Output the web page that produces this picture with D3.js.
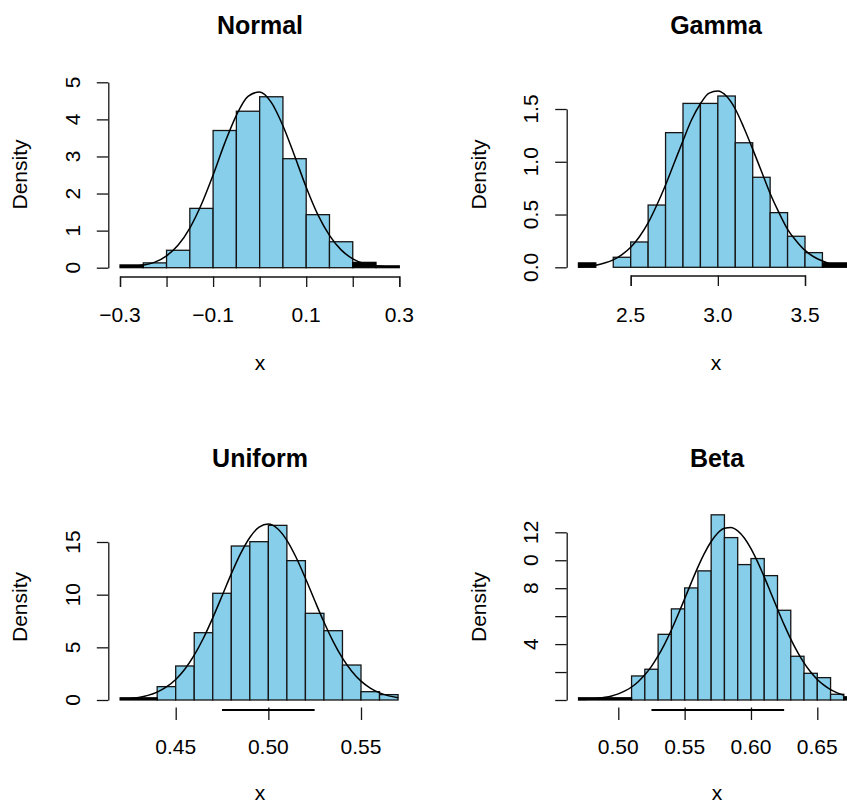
<!DOCTYPE html>
<html>
<head>
<meta charset="utf-8">
<script src="https://cdn.jsdelivr.net/npm/d3@7"></script>
<style>
  html, body { margin: 0; padding: 0; background: #fff; }
  svg { display: block; }
  text { font-family: "Liberation Sans", Arial, Helvetica, sans-serif; fill: #000; }
</style>
</head>
<body>
<svg id="chart" width="847" height="805"></svg>
<script>
// ---------- Normal ----------
const normalBreaks  = [-0.25, -0.2, -0.15, -0.1, -0.05, 0, 0.05, 0.1, 0.15, 0.2];
const normalDensity = [0.13, 0.47, 1.60, 3.70, 4.22, 4.61, 2.94, 1.43, 0.70];
const normalTails   = [[-0.3, -0.25, 0.075], [0.2, 0.25, 0.145], [0.25, 0.3, 0.05]];
const normalCurveX  = [-0.3, -0.275, -0.25, -0.225, -0.2, -0.175, -0.15, -0.125, -0.1, -0.075, -0.05, -0.025, 0,
                       0.025, 0.05, 0.075, 0.1, 0.125, 0.15, 0.175, 0.2, 0.225, 0.25, 0.275, 0.3];
const normalCurveY  = [0.01, 0.03, 0.07, 0.15, 0.32, 0.61, 1.07, 1.71, 2.50, 3.36, 4.11, 4.62, 4.74,
                       4.46, 3.83, 3.02, 2.17, 1.43, 0.87, 0.48, 0.24, 0.11, 0.05, 0.02, 0.01];
const normalXTicks  = [-0.3, -0.2, -0.1, 0, 0.1, 0.2, 0.3];
const normalXLabels = ["\u22120.3", "", "\u22120.1", "", "0.1", "", "0.3"];
const normalYTicks  = [0, 1, 2, 3, 4, 5];
const normalYLabels = ["0", "1", "2", "3", "4", "5"];

// ---------- Gamma ----------
const gammaBreaks  = [2.3, 2.4, 2.5, 2.6, 2.7, 2.8, 2.9, 3.0, 3.1, 3.2, 3.3, 3.4, 3.5, 3.6];
const gammaDensity = [0, 0.095, 0.24, 0.59, 1.276, 1.553, 1.553, 1.623, 1.18, 0.853, 0.518, 0.294, 0.139];
const gammaTails   = [[2.2, 2.3, 0.042], [3.6, 3.8, 0.042]];
const gammaCurveX  = [2.2, 2.25, 2.3, 2.35, 2.4, 2.45, 2.5, 2.55, 2.6, 2.65, 2.7, 2.75, 2.8, 2.85, 2.9, 2.95, 3.0,
                      3.05, 3.1, 3.15, 3.2, 3.25, 3.3, 3.35, 3.4, 3.45, 3.5, 3.55, 3.6, 3.65, 3.7, 3.75];
const gammaCurveY  = [0.005, 0.01, 0.02, 0.04, 0.07, 0.12, 0.19, 0.29, 0.42, 0.59, 0.78, 0.99, 1.20, 1.40, 1.55, 1.65, 1.67,
                      1.62, 1.50, 1.32, 1.12, 0.91, 0.70, 0.52, 0.36, 0.25, 0.16, 0.10, 0.06, 0.03, 0.02, 0.01];
const gammaXTicks  = [2.5, 3.0, 3.5];
const gammaXLabels = ["2.5", "3.0", "3.5"];
const gammaYTicks  = [0, 0.5, 1.0, 1.5];
const gammaYLabels = ["0.0", "0.5", "1.0", "1.5"];

// ---------- Uniform ----------
const uniformBreaks  = [0.44, 0.45, 0.46, 0.47, 0.48, 0.49, 0.50, 0.51, 0.52, 0.53, 0.54, 0.55, 0.56, 0.57];
const uniformDensity = [1.27, 3.23, 6.39, 10.13, 14.62, 15.03, 16.58, 13.23, 8.23, 6.58, 3.32, 0.79, 0.51];
const uniformTails   = [[0.42, 0.44, 0.21]];
const uniformCurveX  = [0.42, 0.425, 0.43, 0.435, 0.44, 0.445, 0.45, 0.455, 0.46, 0.465, 0.47, 0.475, 0.48, 0.485,
                        0.49, 0.495, 0.5, 0.505, 0.51, 0.515, 0.52, 0.525, 0.53, 0.535, 0.54, 0.545, 0.55, 0.555,
                        0.56, 0.565, 0.57];
const uniformCurveY  = [0.07, 0.13, 0.24, 0.44, 0.75, 1.24, 1.95, 2.95, 4.26, 5.89, 7.80, 9.87, 11.97, 13.89,
                        15.43, 16.41, 16.70, 16.26, 15.16, 13.53, 11.56, 9.45, 7.40, 5.54, 3.97, 2.73, 1.79, 1.13,
                        0.68, 0.39, 0.22];
const uniformSpan    = [0.475, 0.525];
const uniformXTicks  = [0.45, 0.50, 0.55];
const uniformXLabels = ["0.45", "0.50", "0.55"];
const uniformYTicks  = [0, 5, 10, 15];
const uniformYLabels = ["0", "5", "10", "15"];

// ---------- Beta ----------
const betaBreaks  = [0.51, 0.52, 0.53, 0.54, 0.55, 0.56, 0.57, 0.58, 0.59, 0.60, 0.61, 0.62, 0.63, 0.64, 0.65, 0.66, 0.67];
const betaDensity = [1.72, 2.20, 4.70, 6.52, 8.02, 9.24, 13.25, 11.62, 9.69, 10.12, 8.90, 6.42, 3.13, 1.91, 1.60, 0.41];
const betaTails   = [[0.47, 0.51, 0.16], [0.67, 0.68, 0.23]];
const betaCurveX  = [0.47, 0.475, 0.48, 0.485, 0.49, 0.495, 0.5, 0.505, 0.51, 0.515, 0.52, 0.525, 0.53, 0.535, 0.54,
                     0.545, 0.55, 0.555, 0.56, 0.565, 0.57, 0.575, 0.58, 0.585, 0.59, 0.595, 0.6, 0.605, 0.61, 0.615,
                     0.62, 0.625, 0.63, 0.635, 0.64, 0.645, 0.65, 0.655, 0.66, 0.665, 0.67];
const betaCurveY  = [0.03, 0.04, 0.07, 0.12, 0.19, 0.29, 0.44, 0.65, 0.93, 1.31, 1.80, 2.41, 3.15, 4.02, 5.01,
                     6.10, 7.24, 8.40, 9.51, 10.51, 11.34, 11.95, 12.29, 12.35, 12.10, 11.59, 10.83, 9.88, 8.81, 7.66,
                     6.51, 5.39, 4.36, 3.45, 2.66, 2.00, 1.47, 1.06, 0.74, 0.51, 0.34];
const betaSpan    = [0.525, 0.625];
const betaXTicks  = [0.50, 0.55, 0.60, 0.65];
const betaXLabels = ["0.50", "0.55", "0.60", "0.65"];
const betaYTicks  = [0, 2, 4, 6, 8, 10, 12];
const betaYLabels = ["", "", "4", "", "8", "0", "12"];

const titles = ["Normal", "Gamma", "Uniform", "Beta"];

// Panel geometry (pixel frame of each plot)
const panels = [
  { title: titles[0], breaks: normalBreaks, dens: normalDensity, tails: normalTails,
    cx: normalCurveX, cy: normalCurveY, xt: normalXTicks, xl: normalXLabels, yt: normalYTicks, yl: normalYLabels,
    xDom: [-0.3, 0.3], xRng: [120, 399.3], yDom: [0, 5], yRng: [267.7, 82.3],
    axisX: 108.3, xAxisY: 276.5, xLine: true, centerX: 260, top: 0, xTitleY: 370 },
  { title: titles[1], breaks: gammaBreaks, dens: gammaDensity, tails: gammaTails,
    cx: gammaCurveX, cy: gammaCurveY, xt: gammaXTicks, xl: gammaXLabels, yt: gammaYTicks, yl: gammaYLabels,
    xDom: [2.5, 3.5], xRng: [630.7, 805], yDom: [0, 1.5], yRng: [267.3, 109],
    axisX: 566.7, xAxisY: 275.5, xLine: true, centerX: 716, top: 0, xTitleY: 370 },
  { title: titles[2], breaks: uniformBreaks, dens: uniformDensity, tails: uniformTails,
    cx: uniformCurveX, cy: uniformCurveY, xt: uniformXTicks, xl: uniformXLabels, yt: uniformYTicks, yl: uniformYLabels,
    span: uniformSpan,
    xDom: [0.45, 0.55], xRng: [175.7, 361], yDom: [0, 15], yRng: [700, 542],
    axisX: 108.3, xAxisY: 707.5, xLine: false, centerX: 260, top: 432.5, xTitleY: 800 },
  { title: titles[3], breaks: betaBreaks, dens: betaDensity, tails: betaTails,
    cx: betaCurveX, cy: betaCurveY, xt: betaXTicks, xl: betaXLabels, yt: betaYTicks, yl: betaYLabels,
    span: betaSpan,
    xDom: [0.5, 0.65], xRng: [618.3, 817.3], yDom: [0, 12], yRng: [700, 532.3],
    axisX: 566.7, xAxisY: 707.5, xLine: false, centerX: 717, top: 432.5, xTitleY: 800 }
];

const svg = d3.select("#chart");
const FILL = "#87CEEB";
const EDGE = "#151515";

panels.forEach((p, i) => {
  const g = svg.append("g");
  const x = d3.scaleLinear().domain(p.xDom).range(p.xRng);
  const y = d3.scaleLinear().domain(p.yDom).range(p.yRng);
  const left = i % 2 === 0;

  // histogram bars
  const bins = p.dens.map((d, k) => ({ x0: p.breaks[k], x1: p.breaks[k + 1], d }));
  g.selectAll("rect.bar").data(bins).join("rect")
    .attr("class", "bar")
    .attr("x", b => x(b.x0)).attr("width", b => x(b.x1) - x(b.x0))
    .attr("y", b => y(b.d)).attr("height", b => y(0) - y(b.d))
    .attr("fill", FILL).attr("stroke", EDGE).attr("stroke-width", 1.3);

  // tail bins
  g.selectAll("rect.tail").data(p.tails).join("rect")
    .attr("class", "tail")
    .attr("x", t => x(t[0])).attr("width", t => x(t[1]) - x(t[0]))
    .attr("y", t => y(t[2])).attr("height", t => y(0) - y(t[2]))
    .attr("fill", "#000").attr("stroke", "#000").attr("stroke-width", 1.2);

  // density curve
  const line = d3.line().x(d => x(d[0])).y(d => y(d[1])).curve(d3.curveMonotoneX);
  g.append("path").datum(p.cx.map((v, k) => [v, p.cy[k]]))
    .attr("d", line).attr("fill", "none").attr("stroke", "#000").attr("stroke-width", 1.5);

  // y axis
  const yAxis = d3.axisLeft(y).tickValues(p.yt).tickSize(11.5).tickSizeOuter(0).tickFormat("");
  const ya = g.append("g").attr("transform", `translate(${p.axisX},0)`).call(yAxis);
  ya.select(".domain").attr("stroke", EDGE).attr("stroke-width", 1.3);
  ya.selectAll(".tick line").attr("stroke", EDGE).attr("stroke-width", 1.3);
  const labX = p.axisX - 28.5;
  g.selectAll("text.ylab").data(p.yt).join("text")
    .attr("class", "ylab")
    .attr("transform", v => `translate(${labX},${y(v)}) rotate(-90)`)
    .attr("text-anchor", "middle").attr("font-size", 21)
    .text((v, k) => p.yl[k]);

  // x axis
  const xAxis = d3.axisBottom(x).tickValues(p.xt).tickSizeOuter(0).tickFormat("")
    .tickSize(p.xLine ? 10.5 : 12.5);
  const xa = g.append("g").attr("transform", `translate(0,${p.xAxisY})`).call(xAxis);
  if (p.xLine) {
    xa.select(".domain").attr("stroke", EDGE).attr("stroke-width", 1.3);
  } else {
    xa.select(".domain").remove();
  }
  xa.selectAll(".tick line").attr("stroke", EDGE).attr("stroke-width", 1.3);
  if (p.span) {
    g.append("line")
      .attr("x1", x(p.span[0])).attr("x2", x(p.span[1]))
      .attr("y1", p.top + 277.5).attr("y2", p.top + 277.5)
      .attr("stroke", "#000").attr("stroke-width", 2);
  }
  g.selectAll("text.xlab").data(p.xt).join("text")
    .attr("class", "xlab")
    .attr("x", v => x(v)).attr("y", p.top + 321.7)
    .attr("text-anchor", "middle").attr("font-size", 21)
    .text((v, k) => p.xl[k]);

  // axis titles
  g.append("text")
    .attr("x", p.centerX).attr("y", p.xTitleY)
    .attr("text-anchor", "middle").attr("font-size", 21).text("x");
  const dX = left ? 27 : 485.5;
  g.append("text")
    .attr("transform", `translate(${dX},${p.top + 174.5}) rotate(-90)`)
    .attr("text-anchor", "middle").attr("font-size", 21).text("Density");

  // main title
  g.append("text")
    .attr("x", p.centerX).attr("y", p.top + 34)
    .attr("text-anchor", "middle").attr("font-size", 25).attr("font-weight", "bold")
    .text(p.title);
});
</script>
</body>
</html>
